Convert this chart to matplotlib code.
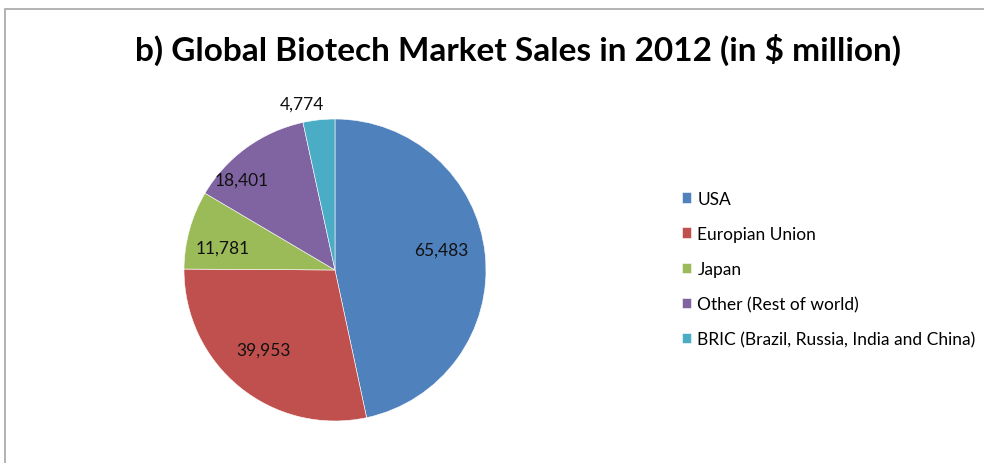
import matplotlib.pyplot as plt
import numpy as np
from matplotlib.patches import Rectangle

regions = ["USA", "Europian Union", "Japan", "Other (Rest of world)",
           "BRIC (Brazil, Russia, India and China)"]
sales = [65483, 39953, 11781, 18401, 4774]
colors = ["#4F81BD", "#C0504D", "#9BBB59", "#8064A2", "#4BACC6"]
# how far from the centre each value label sits (fraction of radius)
label_dist = [0.72, 0.71, 0.76, 0.86, 1.12]
label_shift = [5, -3, 4, 10, 5]  # degrees, nudges like Excel's best fit

plt.rcParams["font.family"] = ["Lato", "DejaVu Sans"]

W, H = 984, 464
fig = plt.figure(figsize=(W / 100, H / 100), dpi=100)

# chart frame (only left and top edges show in the crop)
fig.patches.append(Rectangle((5 / W, -0.1), 1.2, 1 - 10 / H + 0.1,
                             transform=fig.transFigure, fill=False,
                             edgecolor="#a6a6a6", linewidth=1.2))

cx, cy, r = 335, 271, 151
ax = fig.add_axes([(cx - r) / W, (H - cy - r) / H, 2 * r / W, 2 * r / H])
wedges, _ = ax.pie(sales, colors=colors, startangle=90, counterclock=False,
                   radius=1, wedgeprops=dict(edgecolor="white", linewidth=0.4))
ax.set_xlim(-1, 1)
ax.set_ylim(-1, 1)
ax.set_aspect("equal")
ax.axis("off")

for w, v, d, s in zip(wedges, sales, label_dist, label_shift):
    ang = np.deg2rad((w.theta1 + w.theta2) / 2 + s)
    ax.text(d * np.cos(ang), d * np.sin(ang), f"{v:,}", ha="center",
            va="center", fontsize=12.5, color="#111111", clip_on=False)

fig.text(518 / W, 1 - 50 / H, "b) Global Biotech Market Sales in 2012 (in $ million)",
         ha="center", va="center", fontsize=24, fontweight="bold")

fig.legend(wedges, regions, loc="upper left", bbox_to_anchor=(673 / W, 1 - 183 / H),
           frameon=False, fontsize=12.5, handlelength=0.55, handleheight=0.55,
           handletextpad=0.35, labelspacing=1.1, borderpad=0)

fig.savefig("out.png", dpi=100)
